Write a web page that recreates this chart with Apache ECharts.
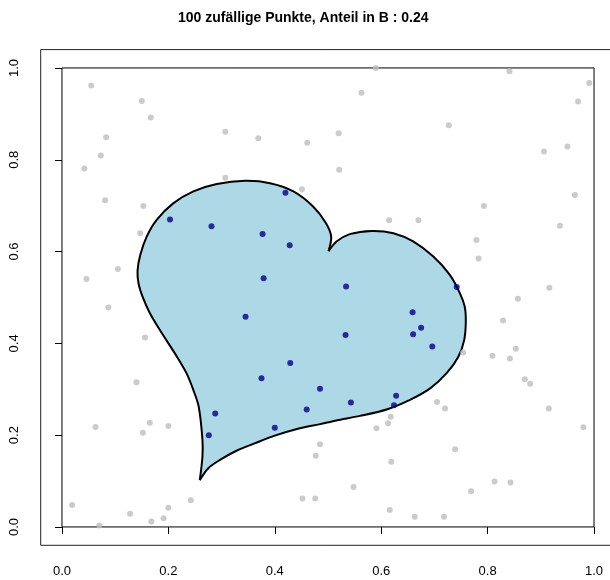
<!DOCTYPE html>
<html>
<head>
<meta charset="utf-8">
<script src="https://cdn.jsdelivr.net/npm/echarts@6/dist/echarts.min.js"></script>
<style>
  html, body { margin: 0; padding: 0; background: #fff; }
  #chart { width: 610px; height: 580px; }
</style>
</head>
<body>
<div id="chart"></div>
<script>
// tick positions on both axes
const tickValues = [0, 0.2, 0.4, 0.6, 0.8, 1.0];

// points outside the heart (grey)
const outsidePoints = [
  [0.055, 0.962], [0.150, 0.928], [0.167, 0.892], [0.083, 0.849], [0.073, 0.809],
  [0.042, 0.781], [0.307, 0.861], [0.369, 0.847], [0.461, 0.837], [0.520, 0.858],
  [0.521, 0.778], [0.307, 0.761], [0.451, 0.736], [0.081, 0.712], [0.153, 0.699],
  [0.147, 0.640], [0.105, 0.562], [0.046, 0.540],
  [0.590, 1.000], [0.841, 0.993], [0.991, 0.967], [0.970, 0.927], [0.563, 0.946],
  [0.727, 0.875], [0.950, 0.829], [0.906, 0.818], [0.964, 0.723], [0.793, 0.699],
  [0.936, 0.656], [0.615, 0.668], [0.670, 0.668], [0.779, 0.625], [0.783, 0.585],
  [0.916, 0.521], [0.857, 0.497],
  [0.829, 0.450], [0.754, 0.380], [0.809, 0.373], [0.842, 0.367], [0.853, 0.388],
  [0.870, 0.322], [0.880, 0.312], [0.705, 0.272], [0.720, 0.258], [0.915, 0.258],
  [0.618, 0.240], [0.613, 0.226], [0.591, 0.215], [0.980, 0.217], [0.485, 0.180],
  [0.739, 0.169], [0.619, 0.142], [0.548, 0.087], [0.769, 0.078], [0.813, 0.099],
  [0.843, 0.097], [0.616, 0.037], [0.663, 0.022], [0.718, 0.022],
  [0.087, 0.478], [0.156, 0.413], [0.140, 0.315], [0.063, 0.218], [0.165, 0.227],
  [0.152, 0.205], [0.200, 0.220], [0.477, 0.155], [0.452, 0.062], [0.476, 0.062],
  [0.242, 0.058], [0.019, 0.048], [0.200, 0.042], [0.128, 0.029], [0.191, 0.019],
  [0.168, 0.012], [0.070, 0.003]
];

// points inside the heart (dark blue)
const insidePoints = [
  [0.420, 0.728], [0.203, 0.670], [0.281, 0.655], [0.377, 0.638], [0.428, 0.614],
  [0.379, 0.542], [0.534, 0.524], [0.742, 0.523],
  [0.659, 0.468], [0.675, 0.434], [0.660, 0.420], [0.696, 0.393], [0.533, 0.418],
  [0.485, 0.301], [0.543, 0.271], [0.628, 0.286], [0.624, 0.265],
  [0.345, 0.458], [0.429, 0.357], [0.375, 0.324], [0.460, 0.256], [0.400, 0.216],
  [0.288, 0.247], [0.276, 0.200]
];

// outline of region B: left half from the bottom tip up to the notch
const heartLeft = [
  [0.259, 0.102], [0.264, 0.153], [0.264, 0.190], [0.257, 0.262], [0.247, 0.298],
  [0.234, 0.335], [0.216, 0.371], [0.184, 0.429], [0.165, 0.466], [0.152, 0.500],
  [0.144, 0.530], [0.142, 0.558], [0.147, 0.592], [0.159, 0.632], [0.178, 0.669],
  [0.209, 0.705], [0.247, 0.731], [0.291, 0.747], [0.344, 0.754], [0.391, 0.749],
  [0.435, 0.731], [0.472, 0.698], [0.496, 0.662], [0.506, 0.632], [0.501, 0.601]
];
// right half from the notch back down to the tip
const heartRight = [
  [0.501, 0.601], [0.516, 0.622], [0.541, 0.638], [0.582, 0.645], [0.623, 0.640],
  [0.660, 0.622], [0.698, 0.589], [0.729, 0.549], [0.748, 0.509], [0.757, 0.480],
  [0.759, 0.447], [0.756, 0.407], [0.745, 0.371], [0.723, 0.335], [0.692, 0.302],
  [0.654, 0.277], [0.610, 0.256], [0.560, 0.242], [0.516, 0.232], [0.485, 0.224],
  [0.440, 0.213], [0.400, 0.199], [0.362, 0.182], [0.328, 0.166], [0.297, 0.146],
  [0.275, 0.128], [0.259, 0.102]
];

// unit square drawn around the sampling area
const unitSquare = [[0, 0], [1, 0], [1, 1], [0, 1], [0, 0]];

const chart = echarts.init(document.getElementById("chart"), null, { renderer: "canvas" });

const fontFamily = "'Liberation Sans', Arial, sans-serif";

const axisCommon = {
  type: "value",
  min: -0.04,
  max: 1.04,
  splitLine: { show: false },
  axisLine: { show: false },
  axisTick: {
    show: true,
    length: 7,
    inside: false,
    customValues: tickValues,
    lineStyle: { color: "#000", width: 1 },
  },
  axisLabel: {
    customValues: tickValues,
    formatter: (v) => v.toFixed(1),
    color: "#000",
    fontSize: 13,
    fontFamily: fontFamily,
  },
};

const option = {
  animation: false,
  backgroundColor: "#fff",
  graphic: [
    {
      type: "text",
      left: 320 - 142,
      top: 11,
      style: {
        text: "100 zufällige Punkte, Anteil in B : 0.24",
        fill: "#000",
        font: "bold 14px " + fontFamily,
      },
    },
  ],
  grid: {
    left: 40.7,
    top: 49.6,
    width: 574.6,
    height: 495.7,
    outerBoundsMode: "none",
    containLabel: false,
    show: true,
    borderColor: "#222",
    borderWidth: 1,
    backgroundColor: "transparent",
  },
  xAxis: Object.assign({}, axisCommon, {
    axisLabel: Object.assign({}, axisCommon.axisLabel, { margin: 20 }),
  }),
  yAxis: Object.assign({}, axisCommon, {
    axisLabel: Object.assign({}, axisCommon.axisLabel, { rotate: 90, margin: 20 }),
  }),
  series: [
    {
      type: "line",
      data: unitSquare,
      symbol: "none",
      lineStyle: { color: "#000", width: 1 },
      z: 1,
    },
    {
      type: "custom",
      data: [0],
      z: 2,
      renderItem: (params, api) => {
        const left = heartLeft.map((p) => api.coord(p));
        const right = heartRight.map((p) => api.coord(p));
        const stroke = { fill: null, stroke: "#000", lineWidth: 2, lineJoin: "round" };
        return {
          type: "group",
          children: [
            {
              type: "polygon",
              shape: { points: left.concat(right.slice(1, -1)) },
              style: { fill: "#ADD8E6", stroke: null },
            },
            { type: "polyline", shape: { points: left, smooth: 0.3 }, style: stroke },
            { type: "polyline", shape: { points: right, smooth: 0.3 }, style: stroke },
          ],
        };
      },
    },
    {
      type: "scatter",
      data: outsidePoints,
      symbol: "circle",
      symbolSize: 6,
      itemStyle: { color: "#BEBEBE" },
      z: 3,
    },
    {
      type: "scatter",
      data: insidePoints,
      symbol: "circle",
      symbolSize: 6,
      itemStyle: { color: "#00008B" },
      z: 4,
    },
  ],
};

chart.setOption(option);
</script>
</body>
</html>
